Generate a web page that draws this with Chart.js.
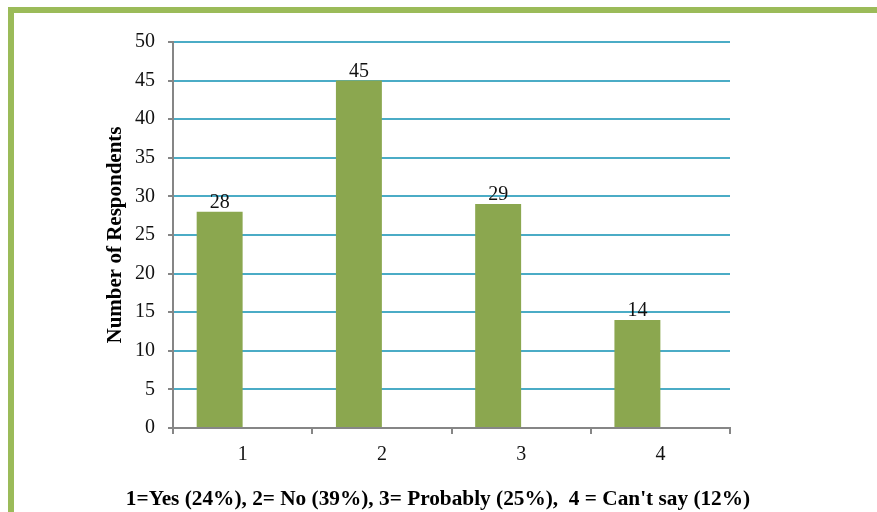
<!DOCTYPE html>
<html>
<head>
<meta charset="utf-8">
<script src="https://cdn.jsdelivr.net/npm/chart.js@4"></script>
<style>
  html, body { margin: 0; padding: 0; background: #ffffff; }
  body { width: 877px; height: 512px; position: relative; overflow: hidden; }
  .frame {
    position: absolute; left: 8px; top: 7px; width: 900px; height: 520px;
    border-left: 6px solid #9BBB59; border-top: 6px solid #9BBB59;
  }
  #wrap { position: absolute; left: 0; top: 0; width: 877px; height: 512px; }
</style>
</head>
<body>
<div class="frame"></div>
<div id="wrap"><canvas id="chart" width="877" height="512"></canvas></div>
<script>
// Survey responses: how many respondents chose each answer
const categories = ['1', '2', '3', '4'];
const respondents = [28, 45, 29, 14];
// second column of the source sheet has no entries; it keeps its slot beside each bar
const emptyColumn = [null, null, null, null];
const yTicks = [0, 5, 10, 15, 20, 25, 30, 35, 40, 45, 50];
const yTitle = 'Number of Respondents';
const caption = "1=Yes (24%), 2= No (39%), 3= Probably (25%),  4 = Can't say (12%)";

const serif = '"Liberation Serif", "Times New Roman", serif';
const axisGray = '#868686';

// Value printed above each bar
const barValues = {
  id: 'barValues',
  afterDatasetsDraw(chart) {
    const ctx = chart.ctx;
    const meta = chart.getDatasetMeta(0);
    ctx.save();
    ctx.font = '20px ' + serif;
    ctx.fillStyle = '#111';
    ctx.textAlign = 'center';
    ctx.textBaseline = 'alphabetic';
    meta.data.forEach((bar, i) => {
      ctx.fillText(String(chart.data.datasets[0].data[i]), bar.x, bar.y - 4);
    });
    ctx.restore();
  }
};

// Legend line for the answer codes, under the axis
const captionLine = {
  id: 'captionLine',
  afterDraw(chart) {
    const ctx = chart.ctx;
    ctx.save();
    ctx.font = 'bold 21.3px ' + serif;
    ctx.fillStyle = '#000';
    ctx.textAlign = 'center';
    ctx.textBaseline = 'middle';
    ctx.fillText(caption, 438, 499);
    ctx.restore();
  }
};

new Chart(document.getElementById('chart'), {
  type: 'bar',
  data: {
    labels: categories,
    datasets: [{
      data: respondents,
      backgroundColor: '#8BA74F',
      borderWidth: 0,
      categoryPercentage: 0.66,
      barPercentage: 1
    }, {
      data: emptyColumn,
      backgroundColor: '#4F81BD',
      borderWidth: 0,
      categoryPercentage: 0.66,
      barPercentage: 1
    }]
  },
  options: {
    responsive: false,
    animation: false,
    devicePixelRatio: 1,
    layout: { padding: { left: 99, right: 147, top: 42, bottom: 0 } },
    plugins: {
      legend: { display: false },
      tooltip: { enabled: false }
    },
    scales: {
      x: {
        afterFit(scale) { scale.height = 84; },
        grid: {
          offset: true,
          drawOnChartArea: false,
          drawTicks: true,
          tickLength: 6,
          tickColor: axisGray,
          lineWidth: 2
        },
        border: { display: true, color: axisGray, width: 2 },
        ticks: {
          padding: 9,
          color: '#111',
          font: { family: serif, size: 20 }
        }
      },
      y: {
        min: 0,
        max: 50,
        afterFit(scale) { scale.width = 74; },
        afterBuildTicks(scale) { scale.ticks = yTicks.map(v => ({ value: v })); },
        grid: {
          color: '#4BACC6',
          lineWidth: 2,
          drawTicks: true,
          tickLength: 5,
          tickColor: axisGray
        },
        border: { display: true, color: axisGray, width: 2 },
        ticks: {
          padding: 13,
          color: '#111',
          font: { family: serif, size: 20 }
        },
        title: {
          display: true,
          text: yTitle,
          color: '#000',
          font: { family: serif, size: 21, weight: 'bold' },
          padding: { top: 4, bottom: 4 }
        }
      }
    }
  },
  plugins: [barValues, captionLine]
});
</script>
</body>
</html>
